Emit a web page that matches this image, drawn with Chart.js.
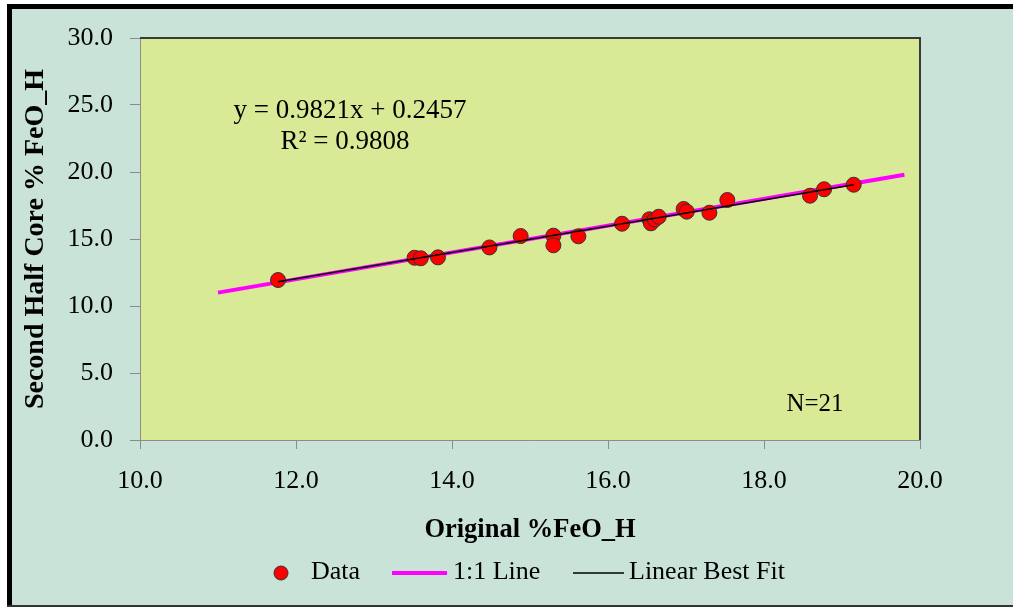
<!DOCTYPE html>
<html>
<head>
<meta charset="utf-8">
<script src="https://cdn.jsdelivr.net/npm/chart.js@4"></script>
<style>
  html, body { margin: 0; padding: 0; background: #fff; }
  #wrap { width: 1013px; height: 607px; }
</style>
</head>
<body>
<div id="wrap"><canvas id="myChart" width="1013" height="607"></canvas></div>
<script>
  // values
  const originalFeO = [11.77, 13.52, 13.60, 13.82, 14.48, 14.88, 15.30, 15.30, 15.62, 16.18, 16.53,
    16.55, 16.60, 16.65, 16.97, 17.01, 17.30, 17.53, 18.59, 18.77, 19.15];
  const secondHalfFeO = [11.94, 13.60, 13.56, 13.63, 14.37, 15.22, 15.25, 14.53, 15.20, 16.14, 16.47,
    16.17, 16.45, 16.66, 17.24, 17.04, 16.96, 17.91, 18.23, 18.71, 19.05];
  const oneToOneX = [11.0, 19.8];
  const oneToOneY = [11.0, 19.8];
  const fitX = [11.77, 19.15];
  const fitY = [11.81, 19.05];
  const equationLabel = "y = 0.9821x + 0.2457";
  const r2Label = "R² = 0.9808";
  const countLabel = "N=21";

  const serif = "'Liberation Serif', 'Times New Roman', serif";

  const toPoints = (xs, ys) => xs.map((x, i) => ({ x: x, y: ys[i] }));

  const framePlugin = {
    id: "frame",
    beforeDraw: function (chart) {
      const ctx = chart.ctx, a = chart.chartArea;
      ctx.save();
      ctx.fillStyle = "#ffffff";
      ctx.fillRect(0, 0, chart.width, chart.height);
      ctx.fillStyle = "#cae3d9";
      ctx.fillRect(7, 4, chart.width - 7, chart.height - 4);
      ctx.fillStyle = "#000000";
      ctx.fillRect(7, 4, 5, chart.height - 4);
      ctx.fillRect(7, 4, chart.width - 7, 5);
      ctx.fillStyle = "#333333";
      ctx.fillRect(7, chart.height - 2, chart.width - 7, 2);
      ctx.fillStyle = "#d9ea97";
      ctx.fillRect(a.left, a.top, a.right - a.left, a.bottom - a.top);
      ctx.restore();
    },
    beforeDatasetsDraw: function (chart) {
      const ctx = chart.ctx, a = chart.chartArea;
      ctx.save();
      ctx.strokeStyle = "#3a3a3a";
      ctx.lineWidth = 2;
      ctx.beginPath();
      ctx.moveTo(a.left, a.top);
      ctx.lineTo(a.right, a.top);
      ctx.lineTo(a.right, a.bottom);
      ctx.stroke();
      ctx.restore();
    },
    afterDraw: function (chart) {
      const ctx = chart.ctx;
      ctx.save();
      ctx.fillStyle = "#000";
      ctx.font = "27px " + serif;
      ctx.textBaseline = "middle";
      ctx.textAlign = "center";
      ctx.fillText(equationLabel, 350, 111);
      ctx.fillText(r2Label, 345, 142);
      ctx.font = "25px " + serif;
      ctx.fillText(countLabel, 815, 404);

      // legend
      const ly = 572;
      ctx.font = "26px " + serif;
      ctx.textAlign = "left";
      ctx.beginPath();
      ctx.arc(281, ly + 1, 7, 0, Math.PI * 2);
      ctx.fillStyle = "#ff0000";
      ctx.fill();
      ctx.strokeStyle = "#333";
      ctx.lineWidth = 1;
      ctx.stroke();
      ctx.fillStyle = "#000";
      ctx.fillText("Data", 311, ly);

      ctx.strokeStyle = "#ff00ff";
      ctx.lineWidth = 4;
      ctx.beginPath();
      ctx.moveTo(392, ly + 1);
      ctx.lineTo(447, ly + 1);
      ctx.stroke();
      ctx.fillText("1:1 Line", 453, ly);

      ctx.strokeStyle = "#000";
      ctx.lineWidth = 1.5;
      ctx.beginPath();
      ctx.moveTo(573, ly + 1);
      ctx.lineTo(624, ly + 1);
      ctx.stroke();
      ctx.fillText("Linear Best Fit", 629, ly);
      ctx.restore();
    }
  };

  new Chart(document.getElementById("myChart"), {
    type: "scatter",
    data: {
      datasets: [
        {
          label: "1:1 Line",
          type: "line",
          data: toPoints(oneToOneX, oneToOneY),
          borderColor: "#ff00ff",
          borderWidth: 4,
          pointRadius: 0,
          order: 3
        },
        {
          label: "Data",
          data: toPoints(originalFeO, secondHalfFeO),
          backgroundColor: "#ff0000",
          borderColor: "#333333",
          borderWidth: 1,
          pointRadius: 7.5,
          order: 2
        },
        {
          label: "Linear Best Fit",
          type: "line",
          data: toPoints(fitX, fitY),
          borderColor: "#000000",
          borderWidth: 1.5,
          pointRadius: 0,
          order: 1
        }
      ]
    },
    options: {
      responsive: false,
      animation: false,
      devicePixelRatio: 1,
      layout: { padding: { left: 0, top: 38, right: 93, bottom: 61 } },
      plugins: {
        legend: { display: false },
        tooltip: { enabled: false }
      },
      scales: {
        x: {
          type: "linear",
          min: 10,
          max: 20,
          afterFit: function (s) { s.height = 106; },
          ticks: {
            stepSize: 2,
            maxRotation: 0,
            padding: 17,
            color: "#000",
            font: { family: serif, size: 26 },
            callback: (v) => v.toFixed(1)
          },
          grid: { drawOnChartArea: false, color: "#8c8c8c", tickLength: 9 },
          border: { color: "#8c8c8c" },
          title: {
            display: true,
            text: "Original %FeO_H",
            color: "#000",
            font: { family: serif, size: 26.5, weight: "bold" },
            padding: { top: 0, bottom: 0 }
          }
        },
        y: {
          min: 0,
          max: 30,
          afterFit: function (s) { s.width = 140; },
          ticks: {
            stepSize: 5,
            padding: 17,
            color: "#000",
            font: { family: serif, size: 26 },
            callback: (v) => v.toFixed(1)
          },
          grid: { drawOnChartArea: false, color: "#8c8c8c", tickLength: 10 },
          border: { color: "#8c8c8c" },
          title: {
            display: true,
            text: "Second Half Core % FeO_H",
            color: "#000",
            font: { family: serif, size: 28, weight: "bold" },
            padding: { top: 19, bottom: 0 }
          }
        }
      }
    },
    plugins: [framePlugin]
  });
</script>
</body>
</html>
